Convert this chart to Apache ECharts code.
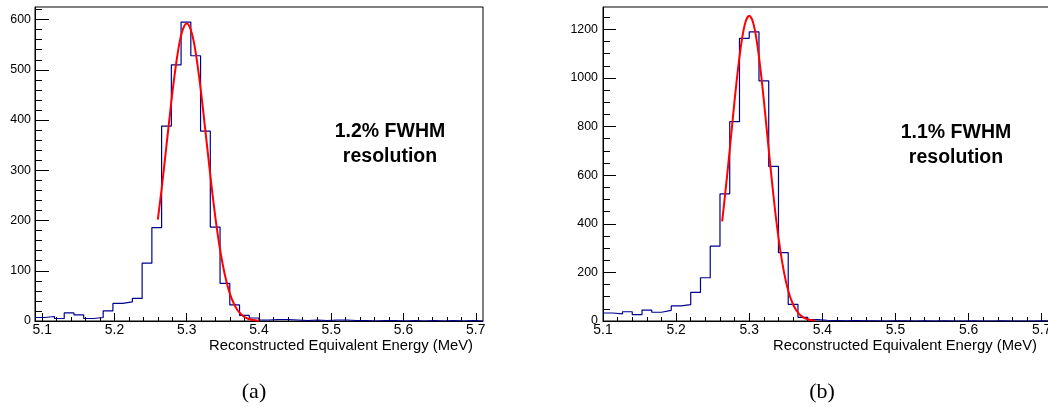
<!DOCTYPE html>
<html>
<head>
<meta charset="utf-8">
<script src="https://cdn.jsdelivr.net/npm/echarts@6/dist/echarts.min.js"></script>
<style>
  html, body { margin: 0; padding: 0; background: #fff; }
  #chart { width: 1048px; height: 407px; }
</style>
</head>
<body>
<div id="chart"></div>
<script>
// (a): 46 bins from 5.09 to 5.71 MeV
const binLowA = 5.09
const binWidthA = 0.62 / 46
const countsA = [7, 9, 5, 16, 12, 5, 7, 20, 35, 38, 45, 115, 186, 388, 510, 595, 528, 378, 187, 75,
  32, 11, 6, 2, 3, 3, 2, 1, 2, 1, 2, 2, 1, 1, 0, 1, 1, 0, 1, 0, 1, 0, 1, 0, 1, 0]

// (b): bins of 0.6/45 starting at 5.1 MeV
const binLowB = 5.1
const binWidthB = 0.6 / 45
const countsB = [33, 29, 38, 26, 45, 36, 44, 62, 67, 118, 178, 308, 523, 820, 1163, 1190, 988, 636, 281, 68,
  15, 6, 3, 2, 1, 2, 1, 1, 0, 1, 1, 0, 1, 0, 1, 0, 0, 1, 0, 0, 1, 0, 0, 0, 1, 0]

// fitted curves
const fitXA = [5.26, 5.265, 5.27, 5.275, 5.28, 5.285, 5.29, 5.295, 5.30, 5.305, 5.31, 5.315, 5.32, 5.325,
  5.33, 5.335, 5.34, 5.345, 5.35, 5.355, 5.36, 5.365, 5.37, 5.375, 5.38, 5.385, 5.39, 5.395, 5.40]
const fitYA = [202, 260, 324, 389, 453, 509, 554, 582, 592, 582, 554, 509, 453, 389,
  324, 260, 202, 152, 111, 78, 53, 35, 22, 14, 8, 4.6, 2.6, 1.4, 0.7]
const fitXB = [5.263, 5.265, 5.27, 5.275, 5.28, 5.285, 5.29, 5.295, 5.30, 5.305, 5.31, 5.315, 5.32, 5.325,
  5.33, 5.335, 5.34, 5.345, 5.35, 5.355, 5.36, 5.365, 5.37, 5.375, 5.38, 5.385, 5.39]
const fitYB = [410, 465, 605, 756, 908, 1046, 1158, 1231, 1256, 1231, 1158, 1046, 908, 756,
  605, 465, 343, 243, 165, 108, 68, 41, 23.5, 13, 7, 3.6, 1.8]

// ticks
const xMajor = [5.1, 5.2, 5.3, 5.4, 5.5, 5.6, 5.7]
const xMinor = [5.12, 5.14, 5.16, 5.18, 5.22, 5.24, 5.26, 5.28, 5.32, 5.34, 5.36, 5.38,
  5.42, 5.44, 5.46, 5.48, 5.52, 5.54, 5.56, 5.58, 5.62, 5.64, 5.66, 5.68]
const yMajorA = [0, 100, 200, 300, 400, 500, 600]
const yMinorA = [20, 40, 60, 80, 120, 140, 160, 180, 220, 240, 260, 280, 320, 340, 360, 380,
  420, 440, 460, 480, 520, 540, 560, 580, 620]
const yMajorB = [0, 200, 400, 600, 800, 1000, 1200]
const yMinorB = [50, 100, 150, 250, 300, 350, 450, 500, 550, 650, 700, 750, 850, 900, 950,
  1050, 1100, 1150, 1250]

const FONT = 'Liberation Sans'

function histPoints(low, width, counts) {
  const pts = counts.map((c, i) => [low + i * width, c])
  pts.push([low + counts.length * width, counts[counts.length - 1]])
  return pts
}

function xAxes(grid, min, max) {
  return [{
    gridIndex: grid, type: 'value', position: 'bottom', min: min, max: max,
    axisLine: { onZero: false, lineStyle: { color: '#000', width: 1 } },
    splitLine: { show: false },
    axisTick: { inside: true, length: 8, customValues: xMajor, lineStyle: { color: '#000' } },
    axisLabel: { customValues: xMajor, margin: 2, fontSize: 13.9, color: '#000', fontFamily: FONT,
      formatter: v => v.toFixed(1) }
  }, {
    gridIndex: grid, type: 'value', position: 'bottom', min: min, max: max,
    axisLine: { show: false }, splitLine: { show: false },
    axisTick: { inside: true, length: 4, customValues: xMinor, lineStyle: { color: '#000' } },
    axisLabel: { show: false }
  }]
}

function yAxes(grid, max, major, minor, bigLen, smallLen, margin) {
  return [{
    gridIndex: grid, type: 'value', position: 'left', min: 0, max: max,
    axisLine: { onZero: false, lineStyle: { color: '#000', width: 1 } },
    splitLine: { show: false },
    axisTick: { inside: true, length: bigLen, customValues: major, lineStyle: { color: '#000' } },
    axisLabel: { customValues: major, margin: margin, fontSize: 12.4, color: '#000', fontFamily: FONT,
      formatter: v => String(v) }
  }, {
    gridIndex: grid, type: 'value', position: 'left', min: 0, max: max,
    axisLine: { show: false }, splitLine: { show: false },
    axisTick: { inside: true, length: smallLen, customValues: minor, lineStyle: { color: '#000' } },
    axisLabel: { show: false }
  }]
}

const frame = { show: true, borderColor: '#000', borderWidth: 1, backgroundColor: 'transparent', outerBoundsMode: 'none' }

const option = {
  animation: false,
  backgroundColor: '#fff',
  grid: [
    Object.assign({ left: 35, top: 7, width: 448, height: 314 }, frame),
    Object.assign({ left: 603, top: 7, width: 446, height: 314 }, frame)
  ],
  xAxis: [...xAxes(0, 5.09, 5.71), ...xAxes(1, 5.1, 5.71)],
  yAxis: [...yAxes(0, 625, yMajorA, yMinorA, 14, 7, 4), ...yAxes(1, 1292, yMajorB, yMinorB, 13, 7, 5)],
  series: [
    { type: 'line', xAxisIndex: 0, yAxisIndex: 0, step: 'end', showSymbol: false,
      lineStyle: { color: '#00008f', width: 1.2 }, data: histPoints(binLowA, binWidthA, countsA) },
    { type: 'line', xAxisIndex: 0, yAxisIndex: 0, smooth: 0.3, showSymbol: false,
      lineStyle: { color: '#ff0000', width: 2 }, data: fitXA.map((x, i) => [x, fitYA[i]]) },
    { type: 'line', xAxisIndex: 2, yAxisIndex: 2, step: 'end', showSymbol: false,
      lineStyle: { color: '#00008f', width: 1.2 }, data: histPoints(binLowB, binWidthB, countsB) },
    { type: 'line', xAxisIndex: 2, yAxisIndex: 2, smooth: 0.3, showSymbol: false,
      lineStyle: { color: '#ff0000', width: 2 }, data: fitXB.map((x, i) => [x, fitYB[i]]) }
  ],
  graphic: [
    { type: 'text', x: 390, y: 144.5,
      style: { text: '1.2% FWHM\nresolution', textAlign: 'center', textVerticalAlign: 'middle',
        font: 'bold 19.5px "Liberation Sans"', lineHeight: 25, fill: '#000' } },
    { type: 'text', x: 956, y: 145.5,
      style: { text: '1.1% FWHM\nresolution', textAlign: 'center', textVerticalAlign: 'middle',
        font: 'bold 19.5px "Liberation Sans"', lineHeight: 25, fill: '#000' } },
    { type: 'text', x: 473, y: 346,
      style: { text: 'Reconstructed Equivalent Energy (MeV)', textAlign: 'right', textVerticalAlign: 'middle',
        font: '14.8px "Liberation Sans"', fill: '#000' } },
    { type: 'text', x: 1037, y: 346,
      style: { text: 'Reconstructed Equivalent Energy (MeV)', textAlign: 'right', textVerticalAlign: 'middle',
        font: '14.8px "Liberation Sans"', fill: '#000' } },
    { type: 'text', x: 254, y: 392,
      style: { text: '(a)', textAlign: 'center', textVerticalAlign: 'middle',
        font: '22px "Liberation Serif"', fill: '#000' } },
    { type: 'text', x: 822, y: 392,
      style: { text: '(b)', textAlign: 'center', textVerticalAlign: 'middle',
        font: '22px "Liberation Serif"', fill: '#000' } }
  ]
}

const chart = echarts.init(document.getElementById('chart'))
chart.setOption(option)
</script>
</body>
</html>
